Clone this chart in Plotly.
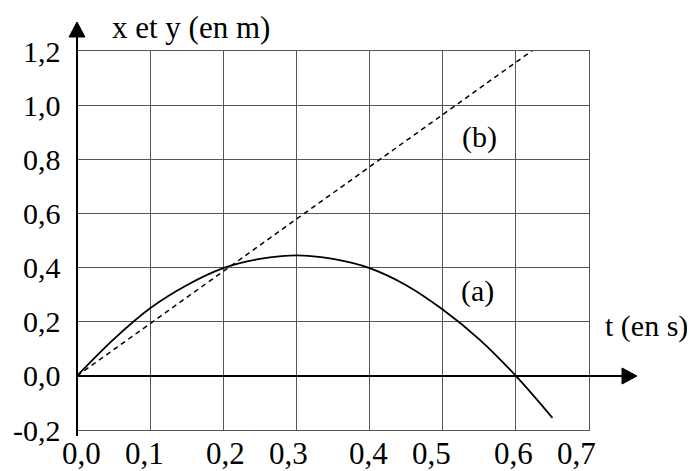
import plotly.graph_objects as go

# ---- data ----
t_a = [0.0, 0.05, 0.10, 0.15, 0.20, 0.25, 0.30, 0.35, 0.40, 0.45, 0.50, 0.55, 0.60, 0.65]
pos_a = [0.0, 0.135, 0.25, 0.335, 0.398, 0.432, 0.445, 0.432, 0.398, 0.335, 0.245, 0.135, 0.0, -0.155]

t_b = [0.0, 0.645]
pos_b = [0.0, 1.245]

x_tick_vals = [0.0, 0.1, 0.2, 0.3, 0.4, 0.5, 0.6, 0.7]
x_tick_text = ["0,0", "0,1", "0,2", "0,3", "0,4", "0,5", "0,6", "0,7"]
y_tick_vals = [-0.2, 0.0, 0.2, 0.4, 0.6, 0.8, 1.0, 1.2]
y_tick_text = ["-0,2", "0,0", "0,2", "0,4", "0,6", "0,8", "1,0", "1,2"]

curve_labels = ["(a)", "(b)"]
curve_label_pos = [(0.548, 0.314), (0.5505, 0.884)]
y_title = "x et y (en m)"
x_title = "t (en s)"

# ---- layout geometry (page pixels; the page body has an 8px margin) ----
OFF = 8
W, H = 695 - OFF, 471 - OFF
L = 77 - OFF
T = 51 - OFF
R = W - (589 - OFF)
B = H - (430 - OFF)
PW, PH = W - L - R, H - T - B
FONT = "Liberation Serif, Times New Roman, serif"


def px(x):
    return (x - OFF - L) / PW


def py(y):
    return (H - B - (y - OFF)) / PH


fig = go.Figure()
fig.add_trace(go.Scatter(x=t_a, y=pos_a, mode="lines",
                         line=dict(color="black", width=1.8, shape="spline"),
                         showlegend=False, hoverinfo="skip"))
fig.add_trace(go.Scatter(x=t_b, y=pos_b, mode="lines",
                         line=dict(color="black", width=1.5, dash="5px,4px"),
                         showlegend=False, hoverinfo="skip"))

shapes = [
    # y axis with arrow
    dict(type="line", xref="paper", yref="paper", x0=px(77), x1=px(77), y0=py(436), y1=py(36),
         line=dict(color="black", width=2)),
    dict(type="path", xref="paper", yref="paper",
         path=f"M {px(77)},{py(22)} L {px(69)},{py(37)} L {px(85)},{py(37)} Z",
         fillcolor="black", line=dict(color="black", width=1)),
    # x axis with arrow
    dict(type="line", xref="paper", yref="paper", x0=px(77), x1=px(623), y0=py(376), y1=py(376),
         line=dict(color="black", width=2)),
    dict(type="path", xref="paper", yref="paper",
         path=f"M {px(637)},{py(376)} L {px(622)},{py(368)} L {px(622)},{py(384)} Z",
         fillcolor="black", line=dict(color="black", width=1)),
]

annotations = []
for v, s in zip(y_tick_vals, y_tick_text):
    annotations.append(dict(xref="paper", x=0, xshift=-14, xanchor="right",
                            yref="y", y=v, yanchor="middle", text=s, showarrow=False,
                            font=dict(family=FONT, size=30, color="black")))
x_label_shift = [4, -6, 2, -8, -1, -11, -2, -13]
for v, s, sh in zip(x_tick_vals, x_tick_text, x_label_shift):
    annotations.append(dict(xref="x", x=v, xshift=sh, xanchor="center",
                            yref="paper", y=0, yshift=-23, yanchor="middle", text=s, showarrow=False,
                            font=dict(family=FONT, size=31, color="black")))
for s, (x, y) in zip(curve_labels, curve_label_pos):
    annotations.append(dict(xref="x", x=x, yref="y", y=y, xanchor="center", yanchor="middle",
                            text=s, showarrow=False, font=dict(family=FONT, size=30, color="black")))
annotations.append(dict(xref="paper", x=px(191), yref="paper", y=py(27.5), xanchor="center",
                        yanchor="middle", text=y_title, showarrow=False,
                        font=dict(family=FONT, size=31, color="black")))
annotations.append(dict(xref="paper", x=px(646), yref="paper", y=py(326), xanchor="center",
                        yanchor="middle", text=x_title, showarrow=False,
                        font=dict(family=FONT, size=30, color="black")))

fig.update_layout(
    width=W, height=H,
    margin=dict(l=L, r=R, t=T, b=B, autoexpand=False),
    paper_bgcolor="white", plot_bgcolor="white",
    xaxis=dict(range=[0, 0.7], tick0=0, dtick=0.1, showgrid=True, gridcolor="#555", gridwidth=1,
               showline=True, mirror=True, linecolor="#555", linewidth=1, zeroline=False,
               showticklabels=False, ticks="", fixedrange=True),
    yaxis=dict(range=[-0.2, 1.2], tick0=0, dtick=0.2, showgrid=True, gridcolor="#555", gridwidth=1,
               showline=True, mirror=True, linecolor="#555", linewidth=1, zeroline=False,
               showticklabels=False, ticks="", fixedrange=True),
    shapes=shapes,
    annotations=annotations,
)

fig.write_html("out.html")
